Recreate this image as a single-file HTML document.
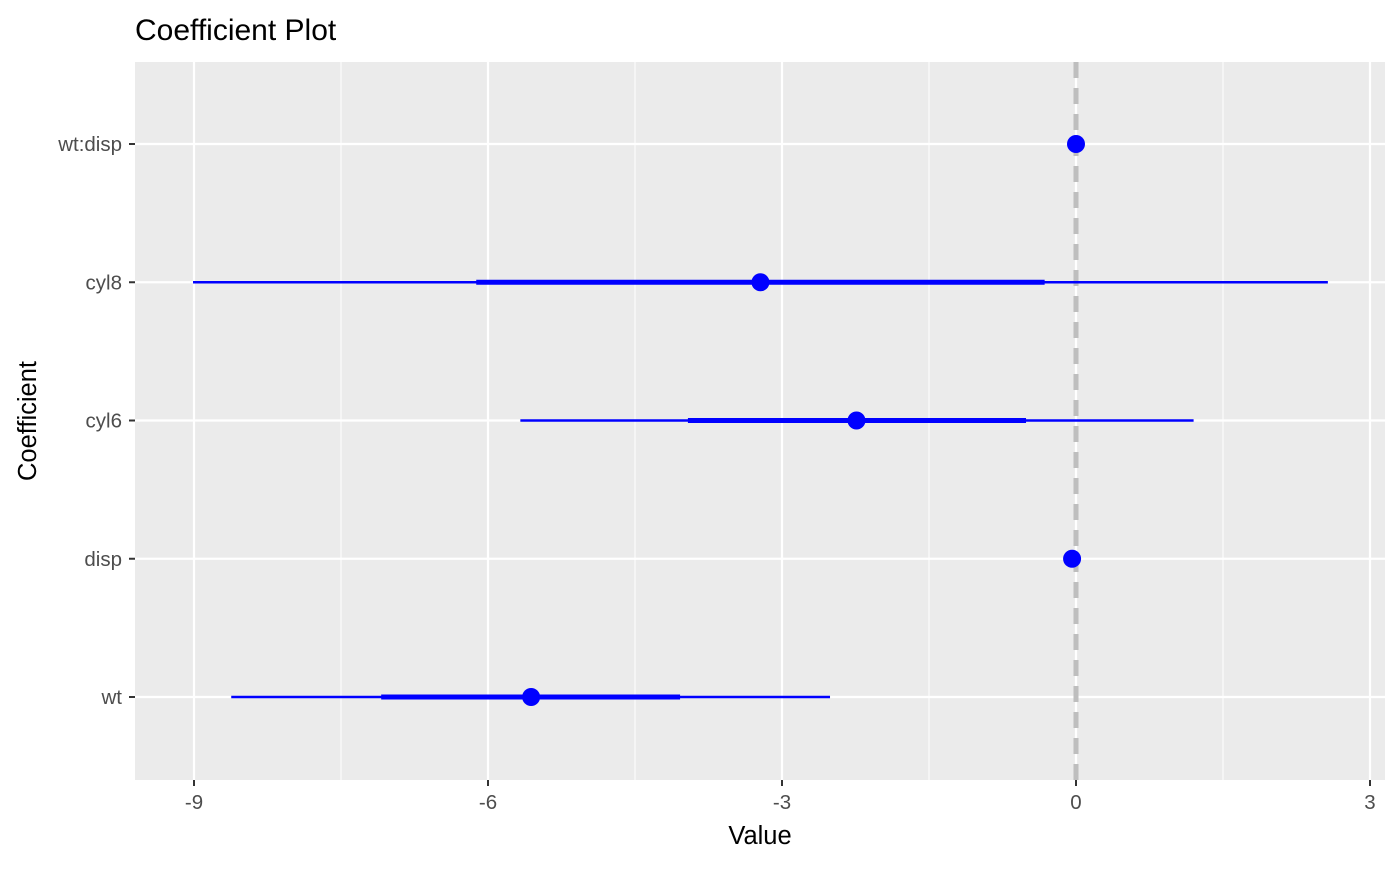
<!DOCTYPE html>
<html><head><meta charset="utf-8"><style>
body{margin:0;background:#fff;font-family:"Liberation Sans",sans-serif}
</style></head><body>
<svg id="chart" width="1400" height="865" xmlns="http://www.w3.org/2000/svg" font-family="Liberation Sans, sans-serif">
<text x="135" y="40" font-size="30" fill="#000">Coefficient Plot</text>
<rect x="135" y="62" width="1250" height="718" fill="#ebebeb"/>
<g id="grid"></g><g id="marks"></g><g id="axes"></g>
<text x="760" y="844" font-size="25.5" text-anchor="middle">Value</text>
<text transform="translate(36,421) rotate(-90)" font-size="25.5" text-anchor="middle">Coefficient</text>
</svg>
<script>
const categories=["wt","disp","cyl6","cyl8","wt:disp"];
const estimates=[-5.56,-0.04,-2.24,-3.22,0.0];
const innerLow=[-7.09,-0.05,-3.96,-6.12,0.0];
const innerHigh=[-4.04,-0.03,-0.51,-0.32,0.0];
const outerLow=[-8.62,-0.06,-5.67,-9.01,0.0];
const outerHigh=[-2.51,-0.02,1.20,2.57,0.0];
const xTicks=[-9,-6,-3,0,3];
const NS="http://www.w3.org/2000/svg";
const X=v=>1076+v*98;
const Y=i=>697-i*138.25;
function mk(t,a,p){const e=document.createElementNS(NS,t);for(const k in a)e.setAttribute(k,a[k]);p.appendChild(e);return e;}
const grid=document.getElementById('grid'),marks=document.getElementById('marks'),axes=document.getElementById('axes');
for(let i=0;i<xTicks.length-1;i++){const m=(xTicks[i]+xTicks[i+1])/2;
const g=mk('line',{x1:X(m),x2:X(m),y1:62,y2:780,stroke:'#fff','stroke-width':1},grid);
}
xTicks.forEach(t=>{const g=mk('line',{x1:X(t),x2:X(t),y1:62,y2:780,stroke:'#fff','stroke-width':2.2},grid);

const tk=mk('line',{x1:X(t),x2:X(t),y1:780,y2:786,stroke:'#333','stroke-width':2},axes);

const tx=mk('text',{x:X(t),y:809,'font-size':20.5,fill:'#4d4d4d','text-anchor':'middle'},axes);tx.textContent=t;
});
categories.forEach((c,i)=>{const g=mk('line',{x1:135,x2:1385,y1:Y(i),y2:Y(i),stroke:'#fff','stroke-width':2.2},grid);

const tk=mk('line',{x1:129,x2:135,y1:Y(i),y2:Y(i),stroke:'#333','stroke-width':2},axes);

const tx=mk('text',{x:122,y:Y(i)+7,'font-size':20.5,fill:'#4d4d4d','text-anchor':'end'},axes);tx.textContent=c;
});
const z=mk('line',{x1:X(0),x2:X(0),y1:62,y2:780,stroke:'#bebebe','stroke-width':5,'stroke-dasharray':'16,10'},marks);

categories.forEach((c,i)=>{
const o=mk('line',{x1:X(outerLow[i]),x2:X(outerHigh[i]),y1:Y(i),y2:Y(i),stroke:'#0000ff','stroke-width':2.5},marks);

const n=mk('line',{x1:X(innerLow[i]),x2:X(innerHigh[i]),y1:Y(i),y2:Y(i),stroke:'#0000ff','stroke-width':5},marks);

const p=mk('circle',{cx:X(estimates[i]),cy:Y(i),r:9,fill:'#0000ff'},marks);
});
</script>
</body></html>
